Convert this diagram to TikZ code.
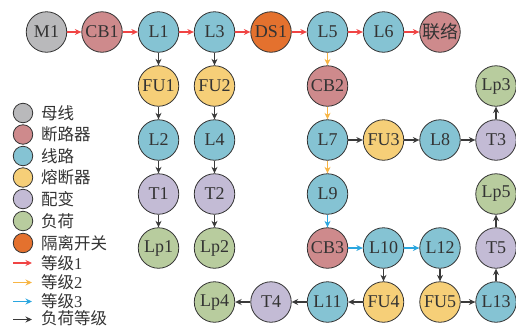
\documentclass[tikz,border=0pt]{standalone}
\usepackage{fontspec}
\setmainfont{Liberation Serif}
\newfontfamily\cjk{Noto Sans CJK SC}
\usetikzlibrary{arrows.meta}

% device colours
\definecolor{cBus}{HTML}{B9B9BB}
\definecolor{cBreaker}{HTML}{CE8A8C}
\definecolor{cLine}{HTML}{85C3D3}
\definecolor{cFuse}{HTML}{F6CF78}
\definecolor{cTrans}{HTML}{C3BBD5}
\definecolor{cLoad}{HTML}{B8CC9E}
\definecolor{cSwitch}{HTML}{E4712E}
% connector colours
\definecolor{cLvOne}{HTML}{F04444}
\definecolor{cLvTwo}{HTML}{F7B544}
\definecolor{cLvThree}{HTML}{2AA6DF}
\definecolor{cLvLoad}{HTML}{3A3A3A}
\definecolor{cInk}{HTML}{333333}

\tikzset{
  dev/.style={circle, draw=cInk, line width=0.8pt, minimum size=40.5pt,
    inner sep=0pt, text=cInk, font=\fontsize{18}{18}\selectfont},
  bus/.style={dev, fill=cBus},
  breaker/.style={dev, fill=cBreaker},
  feeder/.style={dev, fill=cLine},
  fuse/.style={dev, fill=cFuse},
  trans/.style={dev, fill=cTrans},
  load/.style={dev, fill=cLoad},
  isol/.style={dev, fill=cSwitch},
  conn/.style={line width=1.2pt, -{Stealth[length=6.5pt,width=6pt]}},
  lvone/.style={conn, draw=cLvOne, fill=cLvOne},
  lvtwo/.style={conn, draw=cLvTwo, fill=cLvTwo},
  lvthree/.style={conn, draw=cLvThree, fill=cLvThree},
  lvload/.style={conn, draw=cLvLoad, fill=cLvLoad},
  keydot/.style={circle, draw=cInk, line width=0.8pt, minimum size=19.5pt, inner sep=0pt},
  keytext/.style={anchor=west, inner sep=0pt, text=cInk, font=\cjk\fontsize{16.5}{16.5}\selectfont},
}

\begin{document}
\begin{tikzpicture}[x=1pt,y=-1pt]
\useasboundingbox (0,0) rectangle (516,327);

% main feeder row
\node[bus]     (M1)  at (46.5,32) {M1};
\node[breaker] (CB1) at (102,32) {CB1};
\node[feeder]  (L1)  at (158.5,32) {L1};
\node[feeder]  (L3)  at (214.5,32) {L3};
\node[isol]    (DS1) at (271,32) {DS1};
\node[feeder]  (L5)  at (327.5,32) {L5};
\node[feeder]  (L6)  at (383.5,32) {L6};
\node[breaker] (TIE) at (440,32) {\cjk 联络};

% branch under L1
\node[fuse]  (FU1) at (158.5,86) {FU1};
\node[feeder](L2)  at (158.5,140) {L2};
\node[trans] (T1)  at (158.5,194) {T1};
\node[load]  (Lp1) at (158.5,248) {Lp1};

% branch under L3
\node[fuse]  (FU2) at (214.5,86) {FU2};
\node[feeder](L4)  at (214.5,140) {L4};
\node[trans] (T2)  at (214.5,194) {T2};
\node[load]  (Lp2) at (214.5,248) {Lp2};

% branch under L5
\node[breaker](CB2) at (327.5,86) {CB2};
\node[feeder] (L7)  at (327.5,140) {L7};
\node[fuse]   (FU3) at (383.5,140) {FU3};
\node[feeder] (L8)  at (440,140) {L8};
\node[trans]  (T3)  at (496,140) {T3};
\node[load]   (Lp3) at (496,86) {Lp3};
\node[feeder] (L9)  at (327.5,194) {L9};
\node[breaker](CB3) at (327.5,248) {CB3};
\node[feeder] (L10) at (383.5,248) {L10};
\node[feeder] (L12) at (440,248) {L12};
\node[trans]  (T5)  at (496,248) {T5};
\node[load]   (Lp5) at (496,194) {Lp5};
\node[feeder] (L11) at (327.5,302) {L11};
\node[fuse]   (FU4) at (383.5,302) {FU4};
\node[fuse]   (FU5) at (440,302) {FU5};
\node[feeder] (L13) at (496,302) {L13};
\node[trans]  (T4)  at (271,302) {T4};
\node[load]   (Lp4) at (214.5,302) {Lp4};

% level 1 connectors
\draw[lvone] (M1) -- (CB1);
\draw[lvone] (CB1) -- (L1);
\draw[lvone] (L1) -- (L3);
\draw[lvone] (L3) -- (DS1);
\draw[lvone] (DS1) -- (L5);
\draw[lvone] (L5) -- (L6);
\draw[lvone] (L6) -- (TIE);

% level 2 connectors
\draw[lvtwo] (L5) -- (CB2);
\draw[lvtwo] (CB2) -- (L7);
\draw[lvtwo] (L7) -- (L9);

% level 3 connectors
\draw[lvthree] (L9) -- (CB3);
\draw[lvthree] (CB3) -- (L10);
\draw[lvthree] (L10) -- (L12);

% load connectors
\draw[lvload] (L1) -- (FU1);
\draw[lvload] (FU1) -- (L2);
\draw[lvload] (L2) -- (T1);
\draw[lvload] (T1) -- (Lp1);
\draw[lvload] (L3) -- (FU2);
\draw[lvload] (FU2) -- (L4);
\draw[lvload] (L4) -- (T2);
\draw[lvload] (T2) -- (Lp2);
\draw[lvload] (L7) -- (FU3);
\draw[lvload] (FU3) -- (L8);
\draw[lvload] (L8) -- (T3);
\draw[lvload] (T3) -- (Lp3);
\draw[lvload] (L10) -- (FU4);
\draw[lvload] (FU4) -- (L11);
\draw[lvload] (L11) -- (T4);
\draw[lvload] (T4) -- (Lp4);
\draw[lvload] (L12) -- (FU5);
\draw[lvload] (FU5) -- (L13);
\draw[lvload] (L13) -- (T5);
\draw[lvload] (T5) -- (Lp5);

% legend: device types
\node[keydot, fill=cBus]     (kBus)  at (23,113) {};
\node[keytext] (tBus)  at (41,113) {母线};
\node[keydot, fill=cBreaker] (kBrk)  at (23,134.5) {};
\node[keytext] (tBrk)  at (41,134.5) {断路器};
\node[keydot, fill=cLine]    (kLine) at (23,156) {};
\node[keytext] (tLine) at (41,156) {线路};
\node[keydot, fill=cFuse]    (kFuse) at (23,177.5) {};
\node[keytext] (tFuse) at (41,177.5) {熔断器};
\node[keydot, fill=cTrans]   (kTr)   at (23,199) {};
\node[keytext] (tTr)   at (41,199) {配变};
\node[keydot, fill=cLoad]    (kLoad) at (23,221) {};
\node[keytext] (tLoad) at (41,221) {负荷};
\node[keydot, fill=cSwitch]  (kSw)   at (23,243) {};
\node[keytext] (tSw)   at (41,243) {隔离开关};

% legend: connector levels
\coordinate (aOneS) at (13,263);   \coordinate (aOneE) at (32,263);
\coordinate (aTwoS) at (13,282.5); \coordinate (aTwoE) at (32,282.5);
\coordinate (aThrS) at (13,301.5); \coordinate (aThrE) at (32,301.5);
\coordinate (aLdS)  at (13,319.5); \coordinate (aLdE)  at (32,319.5);
\draw[lvone]   (aOneS) -- (aOneE);
\draw[lvtwo]   (aTwoS) -- (aTwoE);
\draw[lvthree] (aThrS) -- (aThrE);
\draw[lvload]  (aLdS)  -- (aLdE);
\node[keytext] (tOne) at (41,263)   {等级{\rmfamily 1}};
\node[keytext] (tTwo) at (41,282.5) {等级{\rmfamily 2}};
\node[keytext] (tThr) at (41,301.5) {等级{\rmfamily 3}};
\node[keytext] (tLd)  at (41,318.5) {负荷等级};
\end{tikzpicture}
\end{document}
